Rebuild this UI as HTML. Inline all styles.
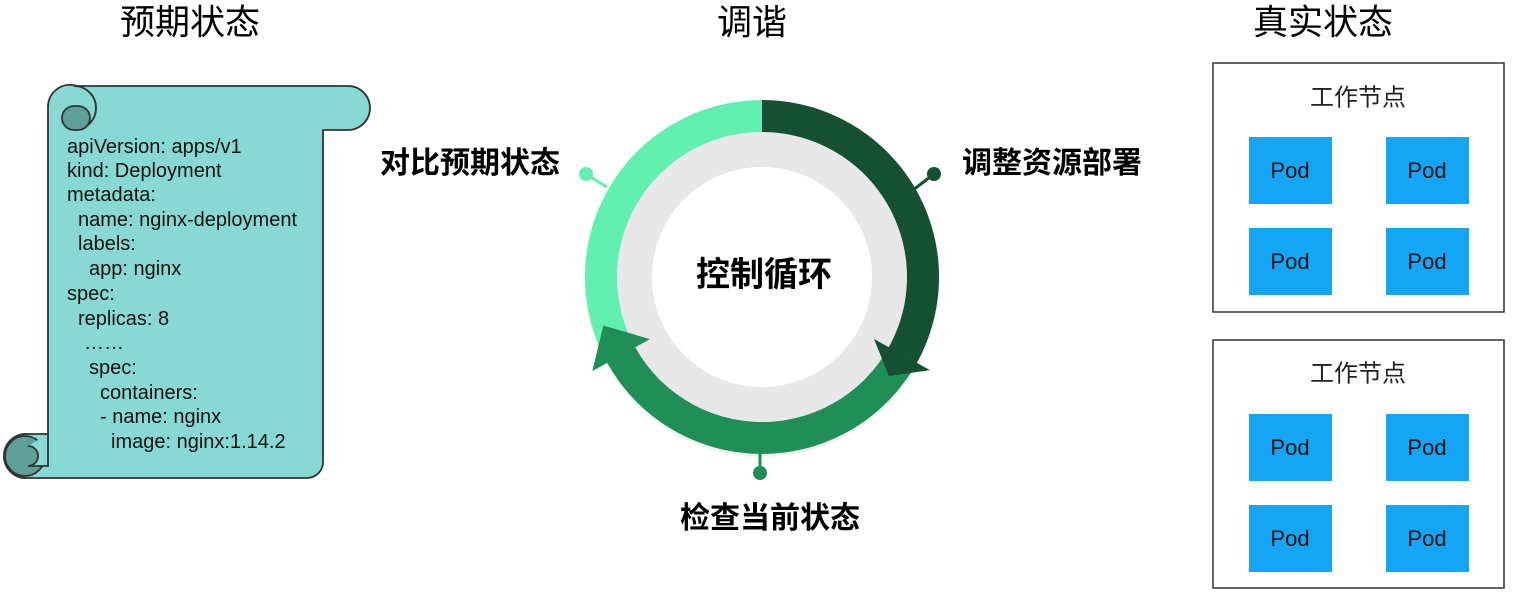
<!DOCTYPE html>
<html><head><meta charset="utf-8"><style>
html,body{margin:0;padding:0;background:#fff;}
svg{display:block;}
text{font-family:"Liberation Sans","Noto Sans CJK SC",sans-serif;}
.cjk{font-family:"Noto Sans CJK SC","WenQuanYi Zen Hei",sans-serif;}
</style></head><body>
<svg width="1513" height="595" viewBox="0 0 1513 595" xmlns="http://www.w3.org/2000/svg">
<!-- titles -->
<text x="190" y="25" font-size="35" text-anchor="middle" class="cjk" dominant-baseline="middle">预期状态</text>
<text x="752" y="25" font-size="35" text-anchor="middle" class="cjk" dominant-baseline="middle">调谐</text>
<text x="1323" y="25" font-size="35" text-anchor="middle" class="cjk" dominant-baseline="middle">真实状态</text>

<!-- scroll -->
<g stroke="#333" stroke-width="1.8" fill="#88d9d3">
<path d="M77,86 L348,86 A22,22 0 0 1 348,130 L323,130 L323,462 A16,16 0 0 1 307,478 L26,478 A22,22 0 0 1 26,434 L48,434 L48,108 A22,22 0 0 1 77,86 Z"/>
<path d="M74,86 A22,22 0 0 1 74,130" fill="none"/>
<path d="M74,130 A12,12 0 0 1 74,106 L78,106 A12,12 0 0 1 78,130 Z" fill="#5f9f9a"/>
<circle cx="25" cy="456" r="20" fill="#5f9f9a"/>
<path d="M28,446 A10,10 0 0 1 28,466 L48,466 L48,434" fill="#88d9d3"/>
<path d="M26,434 A22,22 0 0 0 26,478" fill="none"/>
</g>
<g font-size="20" fill="#111">
<text x="67" y="153">apiVersion: apps/v1</text>
<text x="67" y="177">kind: Deployment</text>
<text x="67" y="201">metadata:</text>
<text x="78" y="226">name: nginx-deployment</text>
<text x="78" y="250">labels:</text>
<text x="89" y="275">app: nginx</text>
<text x="67" y="300">spec:</text>
<text x="78" y="325">replicas: 8</text>
<text x="84" y="349">……</text>
<text x="89" y="374">spec:</text>
<text x="100" y="399">containers:</text>
<text x="100" y="423">- name: nginx</text>
<text x="111" y="448">image: nginx:1.14.2</text>
</g>

<!-- control loop -->
<circle cx="762" cy="279" r="178" fill="#ddd" opacity="0.4"/>
<circle cx="762" cy="277" r="146" fill="#e8e8e9"/>
<circle cx="762" cy="277" r="110" fill="#fff"/>
<path d="M608.7,365.5 A177,177 0 0 1 762,100 L762,132 A145,145 0 0 0 636.4,349.5 Z" fill="#62f0b0"/>
<path d="M928.3,337.5 A177,177 0 0 1 607.2,362.8 L635.2,347.3 A145,145 0 0 0 898.3,326.6 Z" fill="#1f8f57"/>
<polygon points="650,339.1 592.3,371.1 603.3,325.5" fill="#1f8f57"/>
<path d="M762,100 A177,177 0 0 1 916.8,362.8 L888.8,347.3 A145,145 0 0 0 762,132 Z" fill="#155032"/>
<polygon points="874,339 929.9,370.1 888.9,376.1" fill="#155032"/>
<text x="764" y="277" font-size="34" font-weight="bold" text-anchor="middle" dominant-baseline="middle" class="cjk">控制循环</text>

<line x1="586" y1="174" x2="607" y2="187" stroke="#62f0b0" stroke-width="3"/>
<circle cx="586" cy="174" r="7" fill="#62f0b0"/>
<line x1="934" y1="174" x2="913" y2="190" stroke="#155032" stroke-width="3"/>
<circle cx="934" cy="174" r="7" fill="#155032"/>
<line x1="760" y1="452" x2="760" y2="473" stroke="#1f8f57" stroke-width="3"/>
<circle cx="760" cy="473" r="7" fill="#1f8f57"/>

<text x="470" y="165" font-size="30" font-weight="bold" text-anchor="middle" dominant-baseline="middle" class="cjk">对比预期状态</text>
<text x="1052" y="165" font-size="30" font-weight="bold" text-anchor="middle" dominant-baseline="middle" class="cjk">调整资源部署</text>
<text x="770" y="520" font-size="30" font-weight="bold" text-anchor="middle" dominant-baseline="middle" class="cjk">检查当前状态</text>

<!-- nodes -->
<g stroke="#333" stroke-width="1.5" fill="#fff">
<rect x="1213" y="63" width="291" height="249"/>
<rect x="1213" y="340" width="291" height="248"/>
</g>
<g font-size="24" text-anchor="middle" dominant-baseline="middle" class="cjk" fill="#222">
<text x="1358" y="99">工作节点</text>
<text x="1358" y="375">工作节点</text>
</g>
<g fill="#14a6f5">
<rect x="1249" y="137" width="83" height="67"/><rect x="1386" y="137" width="83" height="67"/>
<rect x="1249" y="228" width="83" height="67"/><rect x="1386" y="228" width="83" height="67"/>
<rect x="1249" y="414" width="83" height="67"/><rect x="1386" y="414" width="83" height="67"/>
<rect x="1249" y="505" width="83" height="67"/><rect x="1386" y="505" width="83" height="67"/>
</g>
<g font-size="22" text-anchor="middle" dominant-baseline="middle" fill="#111">
<text x="1290" y="172">Pod</text><text x="1427" y="172">Pod</text>
<text x="1290" y="263">Pod</text><text x="1427" y="263">Pod</text>
<text x="1290" y="449">Pod</text><text x="1427" y="449">Pod</text>
<text x="1290" y="540">Pod</text><text x="1427" y="540">Pod</text>
</g>
</svg>
</body></html>
